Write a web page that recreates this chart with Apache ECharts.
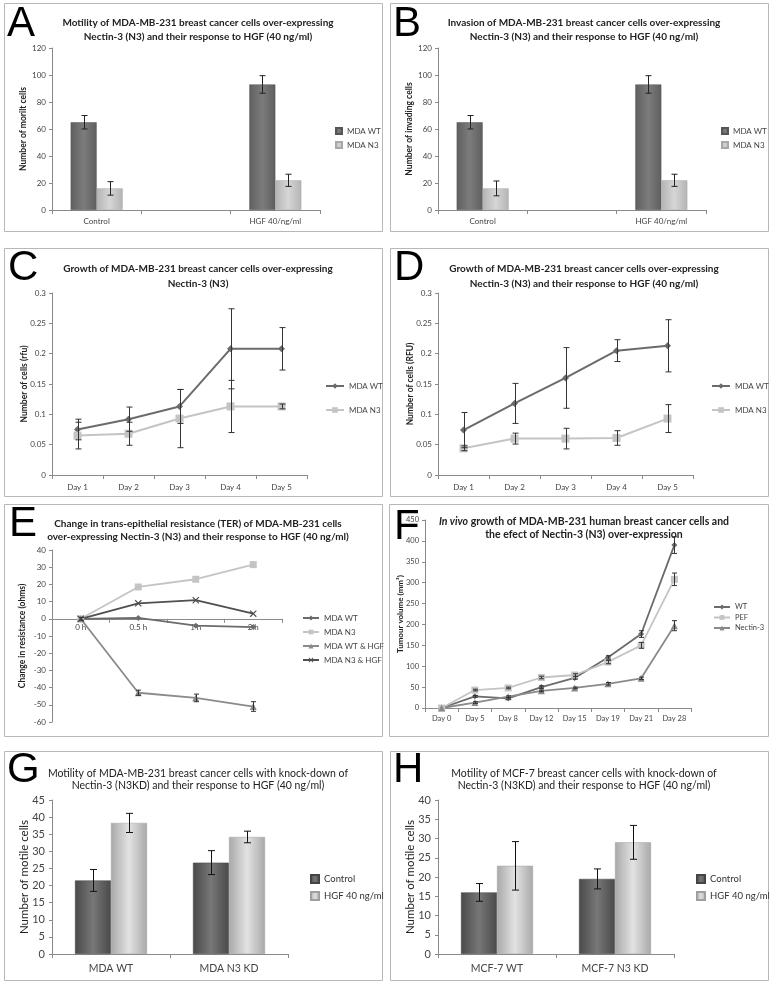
<!DOCTYPE html>
<html><head><meta charset="utf-8">
<script src="https://cdn.jsdelivr.net/npm/echarts@6/dist/echarts.min.js"></script>
<style>
html,body{margin:0;padding:0;background:#fff;width:772px;height:984px;overflow:hidden}
.p{position:absolute;left:0;top:0;width:772px;height:984px}
</style></head><body>
<div id="cA" class="p"></div><div id="cB" class="p"></div>
<div id="cC" class="p"></div><div id="cD" class="p"></div>
<div id="cE" class="p"></div><div id="cF" class="p"></div>
<div id="cG" class="p"></div><div id="cH" class="p"></div>
<script>
// ---------- DATA ----------
const catsAB = ['Control', '', 'HGF 40/ng/ml'];
const aWT = [65, null, 93];   const aWTerr = [5, null, 6.5];
const aN3 = [16, null, 22];   const aN3err = [5, null, 4.5];
const bWT = [65, null, 93];   const bWTerr = [5, null, 6.5];
const bN3 = [16, null, 22];   const bN3err = [5.5, null, 4.5];

const daysCD = ['Day 1', 'Day 2', 'Day 3', 'Day 4', 'Day 5'];
const cWT = [0.075, 0.092, 0.113, 0.208, 0.208]; const cWTerr = [0.017, 0.02, 0.028, 0.066, 0.035];
const cN3 = [0.065, 0.068, 0.093, 0.113, 0.113]; const cN3err = [0.022, 0.019, 0.048, 0.043, 0.004];
const dWT = [0.074, 0.118, 0.160, 0.205, 0.213]; const dWTerr = [0.029, 0.033, 0.05, 0.018, 0.043];
const dN3 = [0.044, 0.060, 0.060, 0.061, 0.093]; const dN3err = [0.004, 0.009, 0.017, 0.012, 0.023];

const hoursE = ['0 h', '0.5 h', '1 h', '2 h'];
const eWT = [0, 0.5, -4, -4.8];
const eN3 = [0, 18.5, 23, 31.5];
const eWTH = [0, -43, -46, -51]; const eWTHerr = [0.8, 1.5, 2.2, 2.8];
const eN3H = [0, 9, 10.8, 3];

const daysF = ['Day 0', 'Day 5', 'Day 8', 'Day 12', 'Day 15', 'Day 19', 'Day 21', 'Day 28'];
const fWT = [0, 28, 23, 50, 72, 121, 177, 390];   const fWTerr = [0, 2, 2, 3, 3, 4, 8, 20];
const fPEF = [0, 43, 48, 73, 79, 110, 150, 308];  const fPEFerr = [0, 2, 2, 3, 3, 4, 7, 15];
const fNec = [0, 13, 27, 41, 48, 58, 71, 197];    const fNecerr = [0, 2, 2, 2, 2, 3, 3, 12];

const catsG = ['MDA WT', 'MDA N3 KD'];
const gCtl = [21.5, 26.7]; const gCtlErr = [3.2, 3.5];
const gHGF = [38.3, 34.2]; const gHGFErr = [2.8, 1.7];
const catsH = ['MCF-7 WT', 'MCF-7 N3 KD'];
const hCtl = [16, 19.5];   const hCtlErr = [2.3, 2.6];
const hHGF = [22.9, 29];   const hHGFErr = [6.3, 4.4];

// ---------- HELPERS ----------
const FONT = 'Lato, "Open Sans", sans-serif';
const DARK = '#6b6b6b', LIGHT = '#c4c4c4', MID = '#8a8a8a', DARKER = '#4f4f4f';
function gradH(c1, c2) {
  return new echarts.graphic.LinearGradient(0, 0, 1, 0, [
    {offset: 0, color: c1}, {offset: 0.5, color: c2}, {offset: 1, color: c1}]);
}
function errSeries(vals, errs, offset, color, capHalf) {
  const data = [];
  vals.forEach((v, i) => { if (v == null || !errs[i]) return; data.push([i, v - errs[i], v + errs[i]]); });
  return {
    type: 'custom', silent: true, z: 10, data: data, encode: {x: 0, y: [1, 2]},
    renderItem: function (params, api) {
      const i = api.value(0);
      const a = api.coord([i, api.value(1)]);
      const b = api.coord([i, api.value(2)]);
      const x = Math.round(a[0] + offset) + 0.5;
      const st = {stroke: color, lineWidth: 1};
      return {type: 'group', children: [
        {type: 'line', shape: {x1: x, y1: a[1], x2: x, y2: b[1]}, style: st},
        {type: 'line', shape: {x1: x - capHalf, y1: a[1], x2: x + capHalf, y2: a[1]}, style: st},
        {type: 'line', shape: {x1: x - capHalf, y1: b[1], x2: x + capHalf, y2: b[1]}, style: st}
      ]};
    }
  };
}
function frameAndLetter(fx, fy, fw, fh, letter, lx, ly) {
  return [
    {type: 'rect', shape: {x: fx + 0.5, y: fy + 0.5, width: fw, height: fh},
     style: {fill: 'none', stroke: '#b8b8b8', lineWidth: 1}, silent: true},
    {type: 'text', x: lx, y: ly, style: {text: letter, fill: '#000', align: 'left', verticalAlign: 'middle',
      font: '42px "Liberation Sans", Arial, sans-serif'}, silent: true}
  ];
}
function smallY(min, max, interval, name, gap, fontSize, labelMargin) {
  return {
    type: 'value', min: min, max: max, interval: interval,
    name: name, nameLocation: 'middle', nameGap: gap, nameRotate: 90, nameMoveOverlap: false,
    nameTextStyle: {fontFamily: FONT, fontSize: fontSize + 0.5, fontWeight: fontSize > 9 ? 'normal' : 'bold', color: '#222'},
    axisLine: {show: true, lineStyle: {color: '#8a8a8a'}},
    axisTick: {show: true, length: 3, lineStyle: {color: '#8a8a8a'}},
    axisLabel: {fontFamily: FONT, fontSize: fontSize, color: '#444', margin: labelMargin || 6},
    splitLine: {show: false}
  };
}
function catX(cats, fontSize, margin) {
  return {
    type: 'category', data: cats,
    axisLine: {show: true, lineStyle: {color: '#8a8a8a'}},
    axisTick: {show: true, length: 4, lineStyle: {color: '#8a8a8a'}},
    axisLabel: {fontFamily: FONT, fontSize: fontSize, color: '#444', margin: margin, interval: 0},
    splitLine: {show: false}
  };
}
function titleOpt(text, cx, top, size, lh, weight, rich) {
  return {text: text, left: cx, top: top, textAlign: 'center',
    textStyle: {fontFamily: FONT, fontSize: size, lineHeight: lh, fontWeight: weight, color: '#222', rich: rich || {}}};
}

// ---------- PANELS A / B (bars) ----------
function barsAB(id, dx, letter, title, yName, wt, wtErr, n3, n3Err) {
  const c = echarts.init(document.getElementById(id));
  c.setOption({
    animation: false,
    title: titleOpt(title, 193 + dx, 11, 10, 14, 'bold'),
    graphic: frameAndLetter(4 + dx, 3, 378, 228, letter, 7 + dx, 24),
    legend: {orient: 'vertical', left: 330 + dx, top: 122, itemWidth: 6, itemHeight: 6, itemGap: 6,
      icon: 'rect', textStyle: {fontFamily: FONT, fontSize: 8, color: '#444'}, data: ['MDA WT', 'MDA N3']},
    grid: {left: 52 + dx, top: 48, width: 268, height: 162},
    xAxis: catX(catsAB, 8, 7),
    yAxis: smallY(0, 120, 20, yName, 24, 8),
    series: [
      {type: 'bar', name: 'MDA WT', data: wt, barWidth: 26, barGap: '0%',
       itemStyle: {color: gradH('#5f5f5f', '#7c7c7c'), borderColor: '#555', borderWidth: 0.5}},
      {type: 'bar', name: 'MDA N3', data: n3, barWidth: 26, barGap: '0%',
       itemStyle: {color: gradH('#b4b4b4', '#d6d6d6'), borderColor: '#a8a8a8', borderWidth: 0.5}},
      errSeries(wt, wtErr, -13, '#222', 3),
      errSeries(n3, n3Err, 13, '#222', 3)
    ]
  });
}
barsAB('cA', 0, 'A', 'Motility of MDA-MB-231 breast cancer cells over-expressing\nNectin-3 (N3) and their response to HGF (40 ng/ml)',
  'Number of morilt cells', aWT, aWTerr, aN3, aN3err);
barsAB('cB', 386, 'B', 'Invasion of MDA-MB-231 breast cancer cells over-expressing\nNectin-3 (N3) and their response to HGF (40 ng/ml)',
  'Number of invading cells', bWT, bWTerr, bN3, bN3err);

// ---------- PANELS C / D (growth lines) ----------
function linesCD(id, dx, letter, title, yName, wt, wtErr, n3, n3Err) {
  const c = echarts.init(document.getElementById(id));
  c.setOption({
    animation: false,
    title: titleOpt(title, 193 + dx, 256, 10, 15, 'bold'),
    graphic: frameAndLetter(4 + dx, 248, 378, 248, letter, 8 + dx, 268),
    legend: {orient: 'vertical', left: 320 + dx, top: 377, itemWidth: 18, itemHeight: 7, itemGap: 16,
      textStyle: {fontFamily: FONT, fontSize: 8, color: '#444'}, data: ['MDA WT', 'MDA N3']},
    grid: {left: 52 + dx, top: 293, width: 255, height: 182},
    xAxis: catX(daysCD, 8, 8),
    yAxis: smallY(0, 0.3, 0.05, yName, 23, 8),
    series: [
      {type: 'line', name: 'MDA WT', data: wt, symbol: 'diamond', symbolSize: 7,
       lineStyle: {width: 2, color: DARK}, itemStyle: {color: DARK}},
      {type: 'line', name: 'MDA N3', data: n3, symbol: 'rect', symbolSize: 8,
       lineStyle: {width: 2, color: LIGHT}, itemStyle: {color: LIGHT}},
      errSeries(wt, wtErr, 0, '#333', 3),
      errSeries(n3, n3Err, 0, '#333', 3)
    ]
  });
}
linesCD('cC', 0, 'C', 'Growth of MDA-MB-231 breast cancer cells over-expressing\nNectin-3 (N3)',
  'Number of cells (rfu)', cWT, cWTerr, cN3, cN3err);
linesCD('cD', 386, 'D', 'Growth of MDA-MB-231 breast cancer cells over-expressing\nNectin-3 (N3) and their response to HGF (40 ng/ml)',
  'Number of cells (RFU)', dWT, dWTerr, dN3, dN3err);

// ---------- PANEL E ----------
(function () {
  const c = echarts.init(document.getElementById('cE'));
  const xPath = 'path://M0,1.2L1.2,0L10,8.8L8.8,10Z M8.8,0L10,1.2L1.2,10L0,8.8Z';
  const gTop = 550, gH = 172, yMin = -60, yMax = 40;
  const zeroShift = gH * (0 - yMin) / (yMax - yMin); // distance from grid bottom to the zero line
  const xa = catX(hoursE, 8, 5);
  xa.axisLine = {show: true, onZero: false, lineStyle: {color: '#8a8a8a'}};
  xa.offset = -zeroShift;
  c.setOption({
    animation: false,
    title: titleOpt('Change in trans-epithelial resistance (TER) of MDA-MB-231 cells\nover-expressing Nectin-3 (N3) and their response to HGF (40 ng/ml)', 193, 512, 10, 13, 'bold'),
    graphic: frameAndLetter(4, 504, 378, 232, 'E', 9, 524),
    legend: {orient: 'vertical', left: 297, top: 609, itemWidth: 16, itemHeight: 6, itemGap: 6,
      textStyle: {fontFamily: FONT, fontSize: 8, color: '#444'},
      data: ['MDA WT', 'MDA N3', 'MDA WT & HGF', 'MDA N3 & HGF']},
    grid: {left: 52, top: gTop, width: 230, height: gH},
    xAxis: xa,
    yAxis: smallY(yMin, yMax, 10, 'Change in resistance (ohms)', 25, 8),
    series: [
      {type: 'line', name: 'MDA WT', data: eWT, symbol: 'diamond', symbolSize: 6,
       lineStyle: {width: 1.8, color: DARK}, itemStyle: {color: DARK}},
      {type: 'line', name: 'MDA N3', data: eN3, symbol: 'rect', symbolSize: 7,
       lineStyle: {width: 1.8, color: LIGHT}, itemStyle: {color: LIGHT}},
      {type: 'line', name: 'MDA WT & HGF', data: eWTH, symbol: 'triangle', symbolSize: 7,
       lineStyle: {width: 1.8, color: MID}, itemStyle: {color: MID}},
      {type: 'line', name: 'MDA N3 & HGF', data: eN3H, symbol: xPath, symbolSize: 7,
       lineStyle: {width: 1.8, color: DARKER}, itemStyle: {color: DARKER}},
      errSeries(eWTH, eWTHerr, 0, '#333', 2.5)
    ]
  });
})();

// ---------- PANEL F ----------
(function () {
  const c = echarts.init(document.getElementById('cF'));
  c.setOption({
    animation: false,
    title: titleOpt('{i|In vivo} growth of MDA-MB-231 human breast cancer cells and\nthe efect of Nectin-3 (N3) over-expression', 579, 510, 10.5, 13, 'bold',
      {i: {fontStyle: 'italic', fontWeight: 'bold', fontFamily: FONT, fontSize: 10.5, color: '#222'}}),
    graphic: frameAndLetter(389, 504, 379, 232, 'F', 394, 527),
    legend: {orient: 'vertical', left: 708, top: 598, itemWidth: 16, itemHeight: 6, itemGap: 2.5,
      textStyle: {fontFamily: FONT, fontSize: 7.5, color: '#444'}, data: ['WT', 'PEF', 'Nectin-3']},
    grid: {left: 425, top: 520, width: 266, height: 188},
    xAxis: catX(daysF, 7.5, 7),
    yAxis: smallY(0, 450, 50, 'Tumour volume (mm³)', 21, 7.5),
    series: [
      {type: 'line', name: 'WT', data: fWT, symbol: 'diamond', symbolSize: 6,
       lineStyle: {width: 1.8, color: DARK}, itemStyle: {color: DARK}},
      {type: 'line', name: 'PEF', data: fPEF, symbol: 'rect', symbolSize: 7,
       lineStyle: {width: 1.8, color: LIGHT}, itemStyle: {color: LIGHT}},
      {type: 'line', name: 'Nectin-3', data: fNec, symbol: 'triangle', symbolSize: 7,
       lineStyle: {width: 1.8, color: MID}, itemStyle: {color: MID}},
      errSeries(fWT, fWTerr, 0, '#333', 2.5),
      errSeries(fPEF, fPEFerr, 0, '#333', 2.5),
      errSeries(fNec, fNecerr, 0, '#333', 2.5)
    ]
  });
})();

// ---------- PANELS G / H ----------
function barsGH(id, dx, letter, title, cats, ymax, ctl, ctlErr, hgf, hgfErr) {
  const c = echarts.init(document.getElementById(id));
  c.setOption({
    animation: false,
    title: titleOpt(title, 193 + dx, 762, 10.5, 12.5, 'normal'),
    graphic: frameAndLetter(4 + dx, 751, 378, 229, letter, 7 + dx, 770),
    legend: {orient: 'vertical', left: 305 + dx, top: 869, itemWidth: 8, itemHeight: 8, itemGap: 7,
      icon: 'rect', textStyle: {fontFamily: FONT, fontSize: 9.5, color: '#333'}, data: ['Control', 'HGF 40 ng/ml']},
    grid: {left: 52 + dx, top: 800, width: 236, height: 154},
    xAxis: catX(cats, 10.5, 9),
    yAxis: smallY(0, ymax, 5, 'Number of motile cells', 22, 11, 7),
    series: [
      {type: 'bar', name: 'Control', data: ctl, barWidth: 36, barGap: '0%',
       itemStyle: {color: gradH('#4a4a4a', '#777777'), borderColor: '#444', borderWidth: 0.5}},
      {type: 'bar', name: 'HGF 40 ng/ml', data: hgf, barWidth: 36, barGap: '0%',
       itemStyle: {color: gradH('#a9a9a9', '#e2e2e2'), borderColor: '#a0a0a0', borderWidth: 0.5}},
      errSeries(ctl, ctlErr, -18, '#111', 3.5),
      errSeries(hgf, hgfErr, 18, '#111', 3.5)
    ]
  });
}
barsGH('cG', 0, 'G', 'Motility of MDA-MB-231 breast cancer cells with knock-down of\nNectin-3 (N3KD) and their response to HGF (40 ng/ml)',
  catsG, 45, gCtl, gCtlErr, gHGF, gHGFErr);
barsGH('cH', 386, 'H', 'Motility of MCF-7 breast cancer cells with knock-down of\nNectin-3 (N3KD) and their response to HGF (40 ng/ml)',
  catsH, 40, hCtl, hCtlErr, hHGF, hHGFErr);
</script>
</body></html>
